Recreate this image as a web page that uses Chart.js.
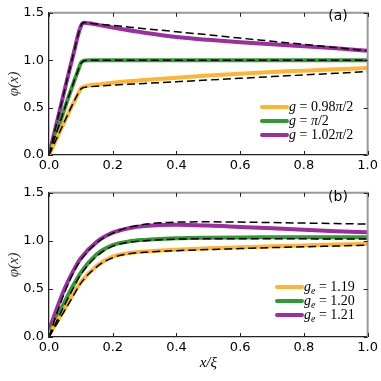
<!DOCTYPE html>
<html>
<head>
<meta charset="utf-8">
<script src="https://cdn.jsdelivr.net/npm/chart.js@4.4.0/dist/chart.umd.min.js"></script>
<style>
  html, body { margin: 0; padding: 0; background: #fff; }
  #wrap { position: relative; width: 381px; height: 381px; }
  canvas { position: absolute; left: 0; }
  #chartA { top: 0; }
  #chartB { top: 180px; }
</style>
</head>
<body>
<div id="wrap">
  <canvas id="chartA" width="381" height="180"></canvas>
  <canvas id="chartB" width="381" height="201"></canvas>
</div>
<script>
// panel (a) data
const xA = [0, 0.02, 0.04, 0.06, 0.08, 0.09, 0.1, 0.11, 0.125, 0.15, 0.2, 0.3, 0.4, 0.5, 0.6, 0.7, 0.8, 0.9, 1.0];
const aOrange = [0, 0.145, 0.29, 0.435, 0.57, 0.64, 0.7, 0.722, 0.733, 0.743, 0.763, 0.79, 0.815, 0.838, 0.858, 0.875, 0.89, 0.905, 0.918];
const aOrangeFit = [0, 0.145, 0.29, 0.435, 0.575, 0.64, 0.695, 0.713, 0.719, 0.726, 0.737, 0.755, 0.773, 0.791, 0.809, 0.827, 0.845, 0.862, 0.88];
const aGreen = [0, 0.2, 0.4, 0.6, 0.79, 0.88, 0.97, 0.995, 1.0, 1.0, 1.0, 1.0, 1.0, 1.0, 1.0, 1.0, 1.0, 1.0, 1.0];
const aGreenFit = [0, 0.2, 0.4, 0.6, 0.79, 0.88, 0.965, 0.995, 1.0, 1.0, 1.0, 1.0, 1.0, 1.0, 1.0, 1.0, 1.0, 1.0, 1.0];
const aPurple = [0, 0.28, 0.56, 0.84, 1.11, 1.25, 1.36, 1.395, 1.39, 1.375, 1.345, 1.29, 1.245, 1.215, 1.19, 1.168, 1.148, 1.125, 1.1];
const aPurpleFit = [0, 0.28, 0.56, 0.84, 1.11, 1.25, 1.365, 1.397, 1.392, 1.383, 1.367, 1.333, 1.3, 1.267, 1.233, 1.2, 1.167, 1.133, 1.1];

// panel (b) data
const xB = [0, 0.025, 0.05, 0.075, 0.1, 0.15, 0.2, 0.25, 0.3, 0.35, 0.4, 0.5, 0.6, 0.7, 0.8, 0.9, 1.0];
const bOrange = [0.02, 0.16, 0.3, 0.44, 0.57, 0.74, 0.835, 0.873, 0.89, 0.9, 0.908, 0.922, 0.933, 0.944, 0.953, 0.962, 0.97];
const bOrangeFit = [0, 0.14, 0.28, 0.42, 0.56, 0.73, 0.825, 0.865, 0.882, 0.891, 0.898, 0.91, 0.92, 0.93, 0.938, 0.946, 0.955];
const bGreen = [0.04, 0.2, 0.37, 0.53, 0.67, 0.86, 0.955, 0.993, 1.01, 1.02, 1.027, 1.033, 1.036, 1.037, 1.038, 1.038, 1.038];
const bGreenFit = [0, 0.17, 0.34, 0.5, 0.65, 0.84, 0.945, 0.985, 1.002, 1.012, 1.018, 1.023, 1.023, 1.022, 1.021, 1.02, 1.02];
const bPurple = [0.07, 0.3, 0.51, 0.68, 0.82, 0.99, 1.085, 1.132, 1.155, 1.166, 1.168, 1.16, 1.145, 1.13, 1.115, 1.1, 1.09];
const bPurpleFit = [0, 0.25, 0.47, 0.66, 0.8, 0.98, 1.08, 1.14, 1.172, 1.188, 1.195, 1.198, 1.195, 1.19, 1.185, 1.18, 1.175];

const xTicks = [0, 0.2, 0.4, 0.6, 0.8, 1.0];
const yTicks = [0, 0.5, 1.0, 1.5];

const colors = ["#ffb533", "#339a33", "#9b2fa0"];

// legend texts, split into pieces: i = italic, s = subscript
const legendA = [
  [{ t: "g", i: 1 }, { t: " = 0.98" }, { t: "π", i: 1 }, { t: "/2" }],
  [{ t: "g", i: 1 }, { t: " = " }, { t: "π", i: 1 }, { t: "/2" }],
  [{ t: "g", i: 1 }, { t: " = 1.02" }, { t: "π", i: 1 }, { t: "/2" }],
];
const legendB = [
  [{ t: "g", i: 1 }, { t: "e", i: 1, s: 1 }, { t: " = 1.19" }],
  [{ t: "g", i: 1 }, { t: "e", i: 1, s: 1 }, { t: " = 1.20" }],
  [{ t: "g", i: 1 }, { t: "e", i: 1, s: 1 }, { t: " = 1.21" }],
];

function pts(xs, ys) {
  return xs.map((x, i) => ({ x: x, y: ys[i] }));
}

function solid(xs, ys, color) {
  return {
    data: pts(xs, ys),
    borderColor: color,
    borderWidth: 4,
    pointRadius: 0,
    cubicInterpolationMode: "monotone",
    order: 1,
  };
}

function dashed(xs, ys) {
  return {
    data: pts(xs, ys),
    borderColor: "#000",
    borderWidth: 1.5,
    borderDash: [8, 4],
    pointRadius: 0,
    cubicInterpolationMode: "monotone",
    order: 0,
  };
}

function drawMath(ctx, x, y, parts) {
  let cx = x;
  parts.forEach((p) => {
    const size = p.s ? 10 : 14;
    ctx.font = (p.i ? "italic " : "") + size + "px 'Liberation Serif'";
    ctx.fillText(p.t, cx, p.s ? y + 4 : y);
    cx += ctx.measureText(p.t).width;
  });
}

// gray top/right frame, inward ticks, panel tag and legend
const framePlugin = {
  id: "frame",
  afterDatasetsDraw(chart, args, opts) {
    const { ctx, chartArea: a } = chart;
    const sx = chart.scales.x;
    const sy = chart.scales.y;
    ctx.save();
    ctx.strokeStyle = "#999";
    ctx.lineWidth = 2;
    ctx.beginPath();
    ctx.moveTo(a.left, a.top);
    ctx.lineTo(a.right, a.top);
    ctx.lineTo(a.right, a.bottom);
    ctx.stroke();

    ctx.strokeStyle = "#222";
    ctx.lineWidth = 1;
    ctx.beginPath();
    xTicks.forEach((v) => {
      const px = Math.round(sx.getPixelForValue(v)) + 0.5;
      ctx.moveTo(px, a.bottom);
      ctx.lineTo(px, a.bottom - 4);
      ctx.moveTo(px, a.top);
      ctx.lineTo(px, a.top + 4);
    });
    yTicks.forEach((v) => {
      const py = Math.round(sy.getPixelForValue(v)) + 0.5;
      ctx.moveTo(a.left, py);
      ctx.lineTo(a.left + 4, py);
      ctx.moveTo(a.right, py);
      ctx.lineTo(a.right - 4, py);
    });
    ctx.stroke();

    ctx.fillStyle = "#000";
    ctx.font = "14px 'DejaVu Sans'";
    ctx.textAlign = "center";
    ctx.textBaseline = "middle";
    ctx.fillText(opts.tag, 338, opts.tagY);

    ctx.textAlign = "left";
    ctx.lineCap = "round";
    opts.legend.forEach((parts, i) => {
      const ry = opts.legendY + i * 14;
      ctx.strokeStyle = colors[i];
      ctx.lineWidth = 4;
      ctx.beginPath();
      ctx.moveTo(opts.lineX0, ry);
      ctx.lineTo(opts.lineX1, ry);
      ctx.stroke();
      ctx.fillStyle = "#000";
      drawMath(ctx, opts.lineX1 + 2, ry, parts);
    });
    ctx.restore();
  },
};

function makeChart(el, datasets, cfg) {
  return new Chart(document.getElementById(el), {
    type: "line",
    data: { datasets: datasets },
    plugins: [framePlugin],
    options: {
      responsive: false,
      animation: false,
      layout: { padding: { top: cfg.padTop, right: 10, left: 0, bottom: 0 } },
      plugins: {
        legend: { display: false },
        tooltip: { enabled: false },
        frame: cfg.frame,
      },
      scales: {
        x: {
          type: "linear",
          min: 0,
          max: 1,
          afterFit: (s) => { s.height = cfg.xHeight; },
          afterBuildTicks: (s) => { s.ticks = xTicks.map((v) => ({ value: v })); },
          grid: { display: false, drawTicks: false },
          border: { display: true, color: "#222", width: 1.3 },
          ticks: {
            color: "#000",
            padding: 3,
            maxRotation: 0,
            font: { family: "DejaVu Sans", size: 13 },
            callback: (v) => v.toFixed(1),
          },
          title: {
            display: cfg.xTitle,
            text: "x/ξ",
            color: "#000",
            font: { family: "Liberation Serif", size: 15, style: "italic" },
            padding: { top: 0, bottom: 9 },
          },
        },
        y: {
          type: "linear",
          min: 0,
          max: 1.5,
          afterFit: (s) => { s.width = 49; },
          afterBuildTicks: (s) => { s.ticks = yTicks.map((v) => ({ value: v })); },
          grid: { display: false, drawTicks: false },
          border: { display: true, color: "#222", width: 1.3 },
          ticks: {
            color: "#000",
            padding: 5,
            font: { family: "DejaVu Sans", size: 13 },
            callback: (v) => v.toFixed(1),
          },
          title: {
            display: true,
            text: "φ(x)",
            color: "#333",
            font: { family: "Liberation Serif", size: 15, style: "italic" },
            padding: { top: 5, bottom: 0 },
          },
        },
      },
    },
  });
}

makeChart("chartA", [
  solid(xA, aOrange, colors[0]),
  solid(xA, aGreen, colors[1]),
  solid(xA, aPurple, colors[2]),
  dashed(xA, aOrangeFit),
  dashed(xA, aGreenFit),
  dashed(xA, aPurpleFit),
], {
  padTop: 5,
  xHeight: 25,
  xTitle: false,
  frame: { tag: "(a)", tagY: 16, legend: legendA, legendY: 107, lineX0: 262, lineX1: 287 },
});

makeChart("chartB", [
  solid(xB, bOrange, colors[0]),
  solid(xB, bGreen, colors[1]),
  solid(xB, bPurple, colors[2]),
  dashed(xB, bOrangeFit),
  dashed(xB, bGreenFit),
  dashed(xB, bPurpleFit),
], {
  padTop: 7,
  xHeight: 44,
  xTitle: true,
  frame: { tag: "(b)", tagY: 17, legend: legendB, legendY: 107, lineX0: 277, lineX1: 302 },
});
</script>
</body>
</html>
